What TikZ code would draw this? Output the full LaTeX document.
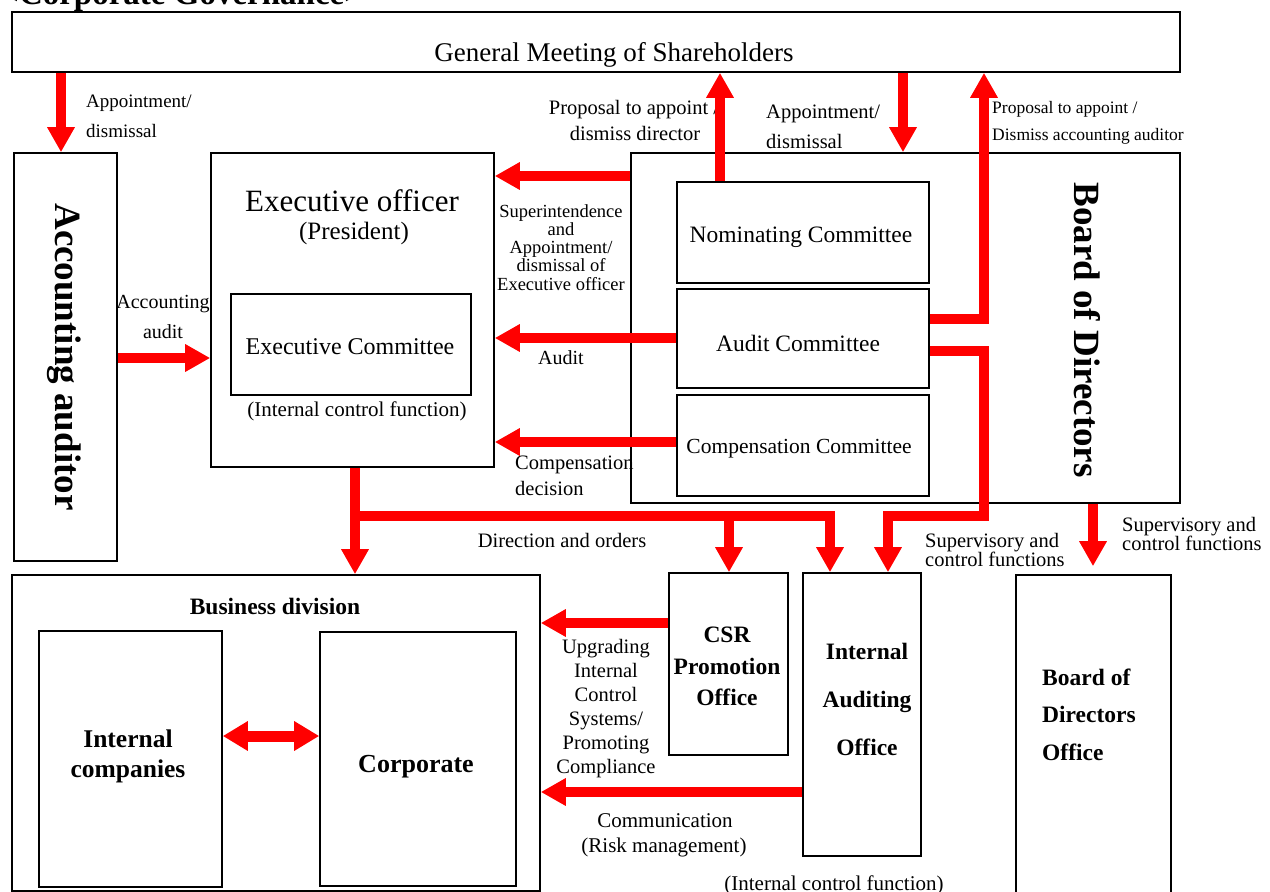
\documentclass[tikz,border=0pt]{standalone}
\usepackage{fontspec}
\setmainfont{Liberation Serif}
\usetikzlibrary{arrows.meta}
\newcommand{\fz}[1]{\fontsize{#1}{#1}\selectfont}
\begin{document}
\begin{tikzpicture}[x=1pt,y=-1pt,
  box/.style={draw=black, line width=1.6pt, inner sep=0pt},
  arr/.style={draw=red, line width=10pt, -{Triangle[width=26pt,length=25pt]}},
  darr/.style={draw=red, line width=11pt, {Triangle[width=28pt,length=25pt]}-{Triangle[width=28pt,length=25pt]}},
  t/.style={inner sep=0pt, anchor=base},
  tl/.style={inner sep=0pt, anchor=base west},
  rt/.style={inner sep=0pt, rotate=-90, font=\fz{37}\bfseries}
  ]
\useasboundingbox (0,0) rectangle (1270,892);

% title (cut by the page top)
\node[tl, font=\fz{33}\bfseries] (title) at (0,4) {<Corporate Governance>};

% boxes
\node[box, minimum width=1168pt, minimum height=60pt] (gm) at (596,42) {};
\node[box, minimum width=103pt, minimum height=408pt] (aa) at (65.5,357) {};
\node[box, minimum width=283pt, minimum height=314pt] (eo) at (352.5,310) {};
\node[box, minimum width=240pt, minimum height=101pt] (ecb) at (351,344.5) {};
\node[box, minimum width=549pt, minimum height=350pt] (bod) at (905.5,328) {};
\node[box, minimum width=252pt, minimum height=101pt] (nom) at (803,232.5) {};
\node[box, minimum width=252pt, minimum height=99pt] (aud) at (803,338.5) {};
\node[box, minimum width=252pt, minimum height=101pt] (cmp) at (803,445.5) {};
\node[box, minimum width=528pt, minimum height=316pt] (bd) at (276,733) {};
\node[box, minimum width=183pt, minimum height=256pt] (ic) at (130.5,759) {};
\node[box, minimum width=196pt, minimum height=254pt] (corp) at (418,759) {};
\node[box, minimum width=119pt, minimum height=182pt] (csr) at (728.5,664) {};
\node[box, minimum width=118pt, minimum height=283pt] (iao) at (862,714.5) {};
\node[box, minimum width=155pt, minimum height=330pt] (bdo) at (1093.5,740) {};

% box texts
\node[t, font=\fz{27}] (gmt) at (614,61) {General Meeting of Shareholders};
\node[rt] (aat) at (64,357) {Accounting auditor};
\node[rt] (bodt) at (1087,330) {Board of Directors};
\node[t, font=\fz{31}] (eot1) at (352,211) {Executive officer};
\node[t, font=\fz{25}] (eot2) at (354,239) {(President)};
\node[t, font=\fz{24}] (ect) at (350,354) {Executive Committee};
\node[t, font=\fz{21}] (icf1) at (357,416) {(Internal control function)};
\node[t, font=\fz{23.5}] (nomt) at (801,242) {Nominating Committee};
\node[t, font=\fz{23.5}] (audt) at (798,351) {Audit Committee};
\node[t, font=\fz{21.5}] (cmpt) at (799,453) {Compensation Committee};
\node[t, font=\fz{23.5}\bfseries] (bdt) at (275,614) {Business division};
\node[t, font=\fz{25.5}\bfseries] (ict1) at (128,747) {Internal};
\node[t, font=\fz{25.5}\bfseries] (ict2) at (128,777) {companies};
\node[t, font=\fz{26}\bfseries] (corpt) at (416,772) {Corporate};
\node[t, font=\fz{23.5}\bfseries] (csrt1) at (727,642) {CSR};
\node[t, font=\fz{23.5}\bfseries] (csrt2) at (727,674) {Promotion};
\node[t, font=\fz{23.5}\bfseries] (csrt3) at (727,705) {Office};
\node[t, font=\fz{23.5}\bfseries] (iaot1) at (867,659) {Internal};
\node[t, font=\fz{23.5}\bfseries] (iaot2) at (867,707) {Auditing};
\node[t, font=\fz{23.5}\bfseries] (iaot3) at (867,755) {Office};
\node[tl, font=\fz{23.5}\bfseries] (bdot1) at (1042,685) {Board of};
\node[tl, font=\fz{23.5}\bfseries] (bdot2) at (1042,722) {Directors};
\node[tl, font=\fz{23.5}\bfseries] (bdot3) at (1042,760) {Office};

% connector labels
\node[tl, font=\fz{19}] (l1a) at (86,107) {Appointment/};
\node[tl, font=\fz{19}] (l1b) at (86,137) {dismissal};
\node[t, font=\fz{20}] (l2a) at (163,308) {Accounting};
\node[t, font=\fz{20}] (l2b) at (163,338) {audit};
\node[t, font=\fz{20.5}] (l3a) at (634,114) {Proposal to appoint /};
\node[t, font=\fz{20.5}] (l3b) at (635,140) {dismiss director};
\node[tl, font=\fz{20.5}] (l4a) at (766,118) {Appointment/};
\node[tl, font=\fz{20.5}] (l4b) at (766,148) {dismissal};
\node[tl, font=\fz{17.5}] (l5a) at (992,113) {Proposal to appoint /};
\node[tl, font=\fz{17.5}] (l5b) at (992,140) {Dismiss accounting auditor};
\node[t, font=\fz{18.5}] (l6a) at (561,217) {Superintendence};
\node[t, font=\fz{18.5}] (l6b) at (561,235) {and};
\node[t, font=\fz{18.5}] (l6c) at (561,253) {Appointment/};
\node[t, font=\fz{18.5}] (l6d) at (561,271) {dismissal of};
\node[t, font=\fz{18.5}] (l6e) at (561,290) {Executive officer};
\node[t, font=\fz{20}] (l7) at (561,364) {Audit};
\node[tl, font=\fz{20.5}] (l8a) at (515,469) {Compensation};
\node[tl, font=\fz{20.5}] (l8b) at (515,495) {decision};
\node[t, font=\fz{20.5}] (l9) at (562,547) {Direction and orders};
\node[tl, font=\fz{20.5}] (l10a) at (925,547) {Supervisory and};
\node[tl, font=\fz{20.5}] (l10b) at (925,566) {control functions};
\node[tl, font=\fz{20.5}] (l11a) at (1122,531) {Supervisory and};
\node[tl, font=\fz{20.5}] (l11b) at (1122,550) {control functions};
\node[t, font=\fz{20.5}] (l12a) at (606,653) {Upgrading};
\node[t, font=\fz{20.5}] (l12b) at (606,677) {Internal};
\node[t, font=\fz{20.5}] (l12c) at (606,701) {Control};
\node[t, font=\fz{20.5}] (l12d) at (606,725) {Systems/};
\node[t, font=\fz{20.5}] (l12e) at (606,749) {Promoting};
\node[t, font=\fz{20.5}] (l12f) at (606,773) {Compliance};
\node[t, font=\fz{21}] (l13a) at (665,827) {Communication};
\node[t, font=\fz{21}] (l13b) at (664,852) {(Risk management)};
\node[t, font=\fz{21}] (icf2) at (834,890) {(Internal control function)};

% connectors
\draw[arr] (gm.south -| 61,0) -- (aa.north -| 61,0);
\draw[arr] (aa.east |- 0,358) -- (eo.west |- 0,358);
\draw[arr] (nom.north -| 720,0) -- (gm.south -| 720,0);
\draw[arr] (gm.south -| 903,0) -- (bod.north -| 903,0);
\draw[arr] (aud.east |- 0,319) -| (gm.south -| 984,0);
\draw[arr] (bod.west |- 0,176) -- (eo.east |- 0,176);
\draw[arr] (aud.west |- 0,338) -- (eo.east |- 0,338);
\draw[arr] (cmp.west |- 0,442) -- (eo.east |- 0,442);
\draw[arr] (eo.south -| 355,0) -- (bd.north -| 355,0);
\coordinate (j) at (355,516);
\draw[arr] (j) -| (iao.north -| 830,0);
\draw[arr] (j -| 729,0) -- (csr.north -| 729,0);
\coordinate (c1) at (984,516);
\draw[arr] (aud.east |- 0,351) -| (c1) -| (iao.north -| 888,0);
\draw[arr, shorten >=8pt] (bod.south -| 1093,0) -- (bdo.north -| 1093,0);
\draw[arr] (csr.west |- 0,623) -- (bd.east |- 0,623);
\draw[arr] (iao.west |- 0,792) -- (bd.east |- 0,792);
\draw[darr] (ic.east |- 0,736) -- (corp.west |- 0,736);
\end{tikzpicture}
\end{document}
